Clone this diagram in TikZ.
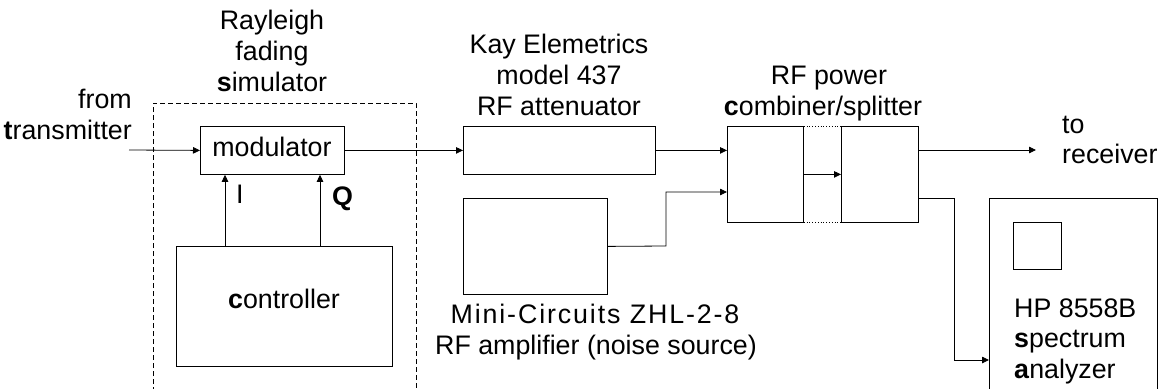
\documentclass[tikz,border=0pt]{standalone}
\usepackage{fontspec}
\setmainfont{Liberation Sans}
\usetikzlibrary{arrows.meta}
\begin{document}
\begin{tikzpicture}[x=1pt,y=-1pt,
  box/.style={draw, line width=0.8pt, rectangle, inner sep=0pt, anchor=north west},
  txt/.style={inner sep=0pt, anchor=base, font=\fontsize{26.8}{31}\selectfont},
  wire/.style={line width=0.8pt},
  arr/.style={line width=0.8pt, -{Triangle[length=7pt,width=6.5pt]}}]
\useasboundingbox (0,0) rectangle (1161,388);
% dashed simulator frame
\draw[line width=0.8pt, dash pattern=on 5pt off 3pt] (153,392) -- (153,103) -- (416,103) -- (416,392);
% boxes
\node[box, minimum width=144pt, minimum height=48pt] (mod) at (200,126) {};
\node[box, minimum width=216pt, minimum height=120pt] (ctrl) at (176,246) {};
\node[box, minimum width=192pt, minimum height=48pt] (att) at (463,126) {};
\node[box, minimum width=144pt, minimum height=96pt] (amp) at (463,198) {};
\node[box, minimum width=76pt, minimum height=96pt] (c1) at (727,126) {};
\node[box, minimum width=77pt, minimum height=96pt] (c2) at (841,126) {};
\node[box, minimum width=168pt, minimum height=200pt] (sa) at (989,198) {};
\node[box, minimum width=48pt, minimum height=47pt] (scr) at (1013,222) {};
% texts
\node[txt] (t1) at (272,29) {Rayleigh};
\node[txt] (t2) at (272,60) {fading};
\node[txt] (t3) at (272,91) {\textbf{s}imulator};
\node[txt, anchor=base east] (f1) at (132,108) {from};
\node[txt, anchor=base east] (f2) at (132,139) {\textbf{t}ransmitter};
\node[txt] (m) at (272,156) {modulator};
\node[txt, anchor=base west] (lI) at (236,203) {I};
\node[txt, anchor=base west] (lQ) at (332,205) {\textbf{Q}};
\node[txt] (c) at (284,308) {\textbf{c}ontroller};
\node[txt] (k1) at (559,53) {Kay Elemetrics};
\node[txt] (k2) at (559,84) {model 437};
\node[txt] (k3) at (559,115) {RF attenuator};
\node[txt] (a1) at (595,323) {\addfontfeature{LetterSpace=7}Mini-Circuits ZHL-2-8};
\node[txt] (a2) at (596,354) {RF amplifier (noise source)};
\node[txt] (r1) at (829,84) {RF power};
\node[txt] (r2) at (823,115) {\textbf{c}ombiner/splitter};
\node[txt, anchor=base west] (o1) at (1062,133) {to};
\node[txt, anchor=base west] (o2) at (1062,163) {receiver};
\node[txt, anchor=base west] (h1) at (1014,317) {HP 8558B};
\node[txt, anchor=base west] (h2) at (1014,347) {\textbf{s}pectrum};
\node[txt, anchor=base west] (h3) at (1014,378) {\textbf{a}nalyzer};
% connectors
\coordinate (tx) at (129,150);
\coordinate (rx) at (1036,150);
\draw[arr] (tx) -- (mod.west);
\draw[arr] (225,0 |- ctrl.north) -- (225,0 |- mod.south);
\draw[arr] (320,0 |- ctrl.north) -- (320,0 |- mod.south);
\draw[arr] (mod.east) -- (att.west);
\draw[arr] (att.east) -- (att.east -| c1.west);
\draw[arr] (amp.east) -- (666,246) -- (666,192) -- (c1.west |- 0,192);
\draw[arr] (c1.east) -- (c2.west);
\draw[line width=0.8pt, dotted] (c1.north east) -- (c2.north west);
\draw[line width=0.8pt, dotted] (c1.south east) -- (c2.south west);
\draw[arr] (c2.east |- rx) -- (rx);
\draw[arr] (c2.east |- 0,198) -- (954,198) -- (954,360) -- (sa.west |- 0,360);
\end{tikzpicture}
\end{document}
